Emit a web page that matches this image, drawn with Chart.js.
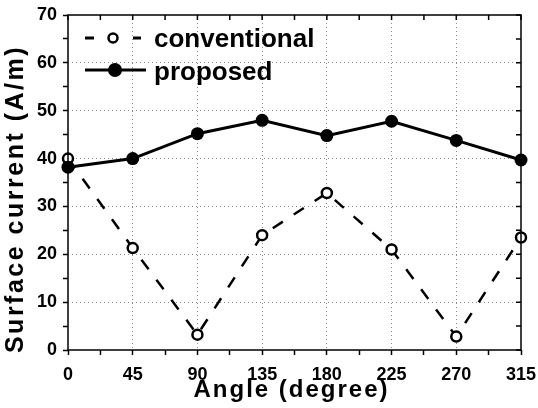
<!DOCTYPE html>
<html>
<head>
<meta charset="utf-8">
<script src="https://cdn.jsdelivr.net/npm/chart.js@4.4.1/dist/chart.umd.min.js"></script>
<style>
  html, body { margin: 0; padding: 0; background: #fff; }
  #wrap { width: 538px; height: 408px; }
</style>
</head>
<body>
<div id="wrap"><canvas id="c" width="538" height="408"></canvas></div>
<script>
// ---- data ----
const angles = [0, 45, 90, 135, 180, 225, 270, 315];
const conventional = [40, 21.3, 3.2, 24, 32.8, 21, 2.8, 23.5];
const proposed = [38.2, 40, 45.2, 48, 44.8, 47.8, 43.8, 39.7];
const yTicks = [0, 10, 20, 30, 40, 50, 60, 70];
const seriesNames = ['conventional', 'proposed'];
const xTitle = 'Angle (degree)';
const yTitle = 'Surface current (A/m)';

const FONT = '"Liberation Sans", Arial, Helvetica, sans-serif';

const toXY = (vals) => angles.map((a, i) => ({ x: a, y: vals[i] }));

const decor = {
  id: 'decor',
  afterDraw(chart) {
    const { ctx, chartArea: ca, scales } = chart;
    const xs = scales.x, ys = scales.y;
    ctx.save();
    // frame
    ctx.strokeStyle = '#000';
    ctx.lineWidth = 1.5;
    ctx.setLineDash([]);
    ctx.strokeRect(ca.left, ca.top, ca.right - ca.left, ca.bottom - ca.top);
    // inward ticks on top and right
    ctx.lineWidth = 1.5;
    ctx.beginPath();
    for (let v = 0; v <= 315; v += 22.5) {
      const px = xs.getPixelForValue(v);
      ctx.moveTo(px, ca.top);
      ctx.lineTo(px, ca.top + 5);
    }
    for (let v = 0; v <= 70; v += 5) {
      const py = ys.getPixelForValue(v);
      ctx.moveTo(ca.right, py);
      ctx.lineTo(ca.right - 5, py);
    }
    ctx.stroke();

    // legend
    const l1 = ca.top + 23, l2 = ca.top + 55;
    ctx.lineWidth = 3;
    ctx.beginPath();
    ctx.moveTo(ca.left + 17, l1); ctx.lineTo(ca.left + 26, l1);
    ctx.moveTo(ca.left + 65, l1); ctx.lineTo(ca.left + 73, l1);
    ctx.stroke();
    ctx.lineWidth = 2.5;
    ctx.beginPath();
    ctx.arc(ca.left + 45, l1, 4.5, 0, Math.PI * 2);
    ctx.fillStyle = '#fff';
    ctx.fill();
    ctx.stroke();
    ctx.lineWidth = 3;
    ctx.beginPath();
    ctx.moveTo(ca.left + 17, l2); ctx.lineTo(ca.left + 78, l2);
    ctx.stroke();
    ctx.beginPath();
    ctx.fillStyle = '#000';
    ctx.arc(ca.left + 47, l2, 7, 0, Math.PI * 2);
    ctx.fill();

    ctx.fillStyle = '#000';
    ctx.font = 'bold 26px ' + FONT;
    ctx.textAlign = 'left';
    ctx.textBaseline = 'alphabetic';
    ctx.fillText(seriesNames[0], ca.left + 86, l1 + 9);
    ctx.fillText(seriesNames[1], ca.left + 86, l2 + 10);

    // axis titles
    ctx.font = 'bold 24px ' + FONT;
    ctx.letterSpacing = '2px';
    ctx.textAlign = 'center';
    ctx.fillText(xTitle, (ca.left + ca.right) / 2 - 3, 397);
    ctx.save();
    ctx.translate(23, 199);
    ctx.rotate(-Math.PI / 2);
    ctx.font = 'bold 25px ' + FONT;
    ctx.letterSpacing = '2.5px';
    ctx.fillText(yTitle, 0, 0);
    ctx.restore();
    ctx.restore();
  }
};

new Chart(document.getElementById('c'), {
  type: 'line',
  data: {
    datasets: [
      {
        label: seriesNames[0],
        data: toXY(conventional),
        borderColor: '#000',
        borderWidth: 2.5,
        borderDash: [12, 13],
        pointRadius: 5,
        pointBorderWidth: 2.5,
        pointBackgroundColor: '#fff',
        pointBorderColor: '#000',
        tension: 0,
        order: 2
      },
      {
        label: seriesNames[1],
        data: toXY(proposed),
        borderColor: '#000',
        borderWidth: 3,
        pointRadius: 6.5,
        pointBackgroundColor: '#000',
        pointBorderColor: '#000',
        pointBorderWidth: 0,
        tension: 0,
        order: 1
      }
    ]
  },
  options: {
    responsive: false,
    animation: false,
    devicePixelRatio: 1,
    clip: false,
    layout: { padding: { top: 15, right: 17, left: 0, bottom: 0 } },
    plugins: { legend: { display: false }, tooltip: { enabled: false } },
    scales: {
      x: {
        type: 'linear',
        min: 0, max: 315,
        afterBuildTicks(scale) {
          const t = [];
          for (let v = 0; v <= 315; v += 22.5) t.push({ value: v });
          scale.ticks = t;
        },
        afterFit(scale) { scale.height = 58; scale.paddingLeft = 0; scale.paddingRight = 0; },
        ticks: {
          autoSkip: false,
          maxRotation: 0,
          color: '#000',
          padding: 9,
          font: { family: FONT, size: 18, weight: 'bold' },
          callback: (v) => (angles.includes(v) ? String(v) : '')
        },
        grid: {
          color: (ctx) => {
            const v = ctx.tick && ctx.tick.value;
            return (angles.includes(v) && v !== 0 && v !== 315) ? '#8a8a8a' : 'rgba(0,0,0,0)';
          },
          lineWidth: 1,
          tickLength: 5,
          tickColor: '#000',
          tickWidth: 1.5,
          tickBorderDash: []
        },
        border: { display: false, dash: [1, 3] }
      },
      y: {
        min: 0, max: 70,
        afterBuildTicks(scale) {
          const t = [];
          for (let v = 0; v <= 70; v += 5) t.push({ value: v });
          scale.ticks = t;
        },
        afterFit(scale) { scale.width = 68; scale.paddingTop = 0; scale.paddingBottom = 0; },
        ticks: {
          autoSkip: false,
          color: '#000',
          padding: 6,
          font: { family: FONT, size: 18, weight: 'bold' },
          callback: (v) => (yTicks.includes(v) ? String(v) : '')
        },
        grid: {
          color: (ctx) => {
            const v = ctx.tick && ctx.tick.value;
            return (yTicks.includes(v) && v !== 0 && v !== 70) ? '#8a8a8a' : 'rgba(0,0,0,0)';
          },
          lineWidth: 1,
          tickLength: 5,
          tickColor: '#000',
          tickWidth: 1.5,
          tickBorderDash: []
        },
        border: { display: false, dash: [1, 3] }
      }
    }
  },
  plugins: [decor]
});
</script>
</body>
</html>
